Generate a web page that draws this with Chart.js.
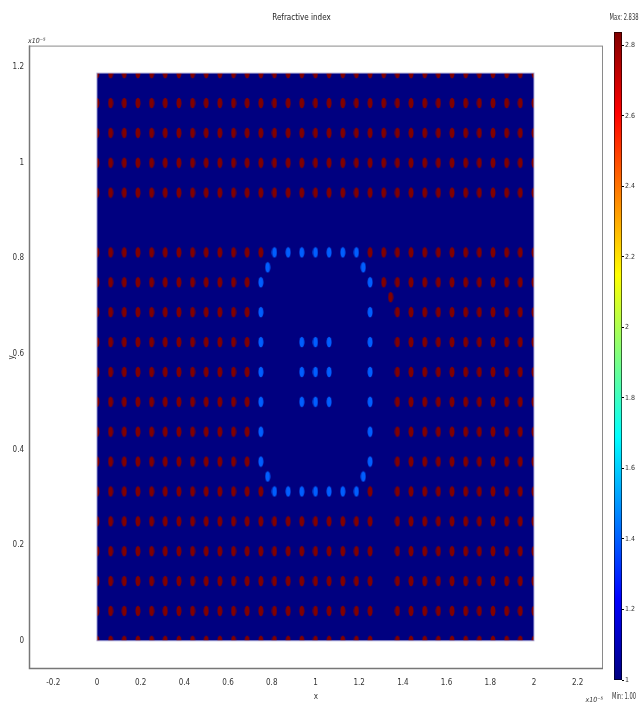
<!DOCTYPE html>
<html>
<head>
<meta charset="utf-8">
<title>Refractive index</title>
<script src="https://cdn.jsdelivr.net/npm/chart.js@4.4.1/dist/chart.umd.min.js"></script>
<style>
  html, body { margin: 0; padding: 0; background: #fff; }
  #wrap { position: relative; width: 639px; height: 704px; overflow: hidden; }
  #main { position: absolute; left: 0; top: 0; }
  #bar { position: absolute; left: 600px; top: 0; }
</style>
</head>
<body>
<div id="wrap">
  <canvas id="main" width="605" height="704"></canvas>
  <canvas id="bar" width="39" height="704"></canvas>
</div>
<script>
/** Lengths are in units of 1e-5. */
const latticeConst = 0.0625;
const domainX = [0, 2];
const domainY = [0, 1.1875];
const xRange = [-0.311, 2.316];
const yRange = [-0.059, 1.245];
const xTickStep = 0.2;
const yTickStep = 0.2;

/** Refractive index values. */
const nMin = 1.0;
const nMax = 2.838;
const nBackground = 1.0;
const nRod = { o: 2.838, b: 1.4 };
const cbTickStep = 0.2;

/** Rod map, top row first. o = high index rod, b = low index rod, . = no rod */
const rodRows = [
  'ooooooooooooooooooooooooooooooooo',
  'ooooooooooooooooooooooooooooooooo',
  'ooooooooooooooooooooooooooooooooo',
  'ooooooooooooooooooooooooooooooooo',
  'ooooooooooooooooooooooooooooooooo',
  '.................................',
  'ooooooooooooo' + 'bbbbbbb' + 'ooooooooooooo',
  'oooooooooooo' + 'b' + '.......' + 'b' + 'oooooooooooo',
  'oooooooooooo' + 'b' + '.......' + 'b' + '.' + 'ooooooooooo',
  'oooooooooooo' + 'b' + '..bbb..' + 'b' + '.' + 'ooooooooooo',
  'oooooooooooo' + 'b' + '..bbb..' + 'b' + '.' + 'ooooooooooo',
  'oooooooooooo' + 'b' + '..bbb..' + 'b' + '.' + 'ooooooooooo',
  'oooooooooooo' + 'b' + '.......' + 'b' + '.' + 'ooooooooooo',
  'oooooooooooo' + 'b' + '.......' + 'b' + '.' + 'ooooooooooo',
  'ooooooooooooo' + 'bbbbbbb' + 'o' + '.' + 'ooooooooooo',
  'ooooooooooooooooooooo' + '.' + 'ooooooooooo',
  'ooooooooooooooooooooo' + '.' + 'ooooooooooo',
  'ooooooooooooooooooooo' + '.' + 'ooooooooooo',
  'ooooooooooooooooooooo' + '.' + 'ooooooooooo',
  'ooooooooooooooooooooo' + '.' + 'ooooooooooo',
];

/** Rods shifted half a period, [column, row] in lattice units. */
const extraLow = [[12.5, 12.5], [19.5, 12.5], [12.5, 5.5], [19.5, 5.5]];
const extraHigh = [[21.5, 11.5]];

const FONT = "'DejaVu Sans Condensed', 'Liberation Sans Narrow', 'DejaVu Sans', sans-serif";

/** Jet colour map. */
const jet = (n) => {
  const f = Math.min(1, Math.max(0, (n - nMin) / (nMax - nMin)));
  const c = (v) => Math.round(255 * Math.min(1, Math.max(0, v)));
  return `rgb(${c(1.5 - Math.abs(4 * f - 3))}, ${c(1.5 - Math.abs(4 * f - 2))}, ${c(1.5 - Math.abs(4 * f - 1))})`;
};

/** Collect rod centres of one kind from the map. */
const rodPoints = (kind, extra) => {
  const pts = [];
  rodRows.forEach((row, i) => {
    const j = rodRows.length - 1 - i;
    [...row].forEach((ch, k) => {
      if (ch === kind) pts.push({ x: k * latticeConst, y: j * latticeConst });
    });
  });
  extra.forEach(([k, j]) => pts.push({ x: k * latticeConst, y: j * latticeConst }));
  return pts;
};

/** Rods are round, but the axes are not equal, so they look like ellipses. */
const rodImage = (color) => {
  const c = document.createElement('canvas');
  c.width = 6;
  c.height = 12;
  const g = c.getContext('2d');
  g.fillStyle = color;
  g.beginPath();
  g.ellipse(3, 6, 2.5, 5.3, 0, 0, Math.PI * 2);
  g.fill();
  return c;
};

const tickText = (v) => String(+v.toFixed(2));

/** Background domain, clip for the rods, frame and exponent labels. */
const domainPlugin = {
  id: 'domain',
  beforeDatasetsDraw(chart) {
    const { ctx, scales: { x, y } } = chart;
    const l = x.getPixelForValue(domainX[0]);
    const r = x.getPixelForValue(domainX[1]);
    const t = y.getPixelForValue(domainY[1]);
    const b = y.getPixelForValue(domainY[0]);
    ctx.save();
    ctx.fillStyle = jet(nBackground);
    ctx.fillRect(l, t, r - l, b - t);
    ctx.beginPath();
    ctx.rect(l, t, r - l, b - t);
    ctx.clip();
  },
  afterDatasetsDraw(chart) {
    const { ctx, scales: { x, y } } = chart;
    ctx.restore();
    const l = x.getPixelForValue(domainX[0]);
    const r = x.getPixelForValue(domainX[1]);
    const t = y.getPixelForValue(domainY[1]);
    const b = y.getPixelForValue(domainY[0]);
    ctx.save();
    ctx.strokeStyle = 'rgba(170, 170, 220, 0.9)';
    ctx.lineWidth = 1;
    ctx.strokeRect(l, t, r - l, b - t);
    ctx.restore();
  },
  afterDraw(chart) {
    const { ctx, chartArea: a } = chart;
    ctx.save();
    ctx.strokeStyle = '#8a8a8a';
    ctx.lineWidth = 1;
    ctx.strokeRect(a.left + 0.5, a.top + 0.5, a.right - a.left - 1, a.bottom - a.top - 1);
    ctx.strokeStyle = '#777';
    ctx.lineWidth = 1.5;
    ctx.beginPath();
    ctx.moveTo(a.left + 0.5, a.top);
    ctx.lineTo(a.left + 0.5, a.bottom - 0.5);
    ctx.lineTo(a.right, a.bottom - 0.5);
    ctx.stroke();
    ctx.fillStyle = '#333';
    ctx.font = `italic 7px ${FONT}`;
    ctx.textBaseline = 'alphabetic';
    ctx.textAlign = 'left';
    ctx.fillText('x10⁻⁵', a.left - 1, a.top - 3);
    ctx.textAlign = 'right';
    ctx.fillText('x10⁻⁵', a.right, 702);
    ctx.restore();
  },
};

new Chart(document.getElementById('main').getContext('2d'), {
  type: 'scatter',
  data: {
    datasets: [
      {
        label: 'high index rods',
        data: rodPoints('o', extraHigh),
        pointStyle: rodImage(jet(nRod.o)),
      },
      {
        label: 'low index rods',
        data: rodPoints('b', extraLow),
        pointStyle: rodImage(jet(nRod.b)),
      },
    ],
  },
  options: {
    responsive: false,
    animation: false,
    events: [],
    layout: { autoPadding: false, padding: { left: 0, right: 2, top: 0, bottom: 0 } },
    plugins: {
      legend: { display: false },
      tooltip: { enabled: false },
      title: {
        display: true,
        text: 'Refractive index',
        color: '#222',
        font: { family: FONT, size: 8, weight: 'normal' },
        padding: { top: 13, bottom: 23 },
      },
    },
    scales: {
      x: {
        type: 'linear',
        min: xRange[0],
        max: xRange[1],
        afterFit: (s) => { s.height = 35; },
        grid: { display: false, drawTicks: false },
        border: { display: false },
        ticks: {
          stepSize: xTickStep,
          includeBounds: false,
          maxRotation: 0,
          autoSkip: false,
          padding: 9,
          color: '#333',
          font: { family: FONT, size: 8 },
          callback: tickText,
        },
        title: {
          display: true,
          text: 'x',
          color: '#333',
          font: { family: FONT, size: 8 },
          padding: { top: 0, bottom: 2 },
        },
      },
      y: {
        type: 'linear',
        min: yRange[0],
        max: yRange[1],
        afterFit: (s) => { s.width = 29; },
        grid: { display: false, drawTicks: false },
        border: { display: false },
        ticks: {
          stepSize: yTickStep,
          includeBounds: false,
          autoSkip: false,
          padding: 5,
          color: '#333',
          font: { family: FONT, size: 8 },
          callback: tickText,
        },
        title: {
          display: true,
          text: 'y',
          color: '#333',
          font: { family: FONT, size: 8 },
          padding: { top: 7, bottom: 0 },
        },
      },
    },
  },
  plugins: [domainPlugin],
});

/** Colour bar. */
const barTextPlugin = {
  id: 'barText',
  afterDraw(chart) {
    const { ctx, chartArea: a } = chart;
    ctx.save();
    ctx.strokeStyle = 'rgba(0, 0, 0, 0.6)';
    ctx.lineWidth = 1;
    ctx.strokeRect(a.left + 0.5, a.top + 0.5, a.right - a.left - 1, a.bottom - a.top - 1);
    ctx.fillStyle = '#333';
    ctx.font = `8px ${FONT}`;
    ctx.textAlign = 'center';
    ctx.textBaseline = 'middle';
    ctx.translate(24, 0);
    ctx.scale(0.72, 1);
    ctx.fillText('Max: ' + nMax.toFixed(3), 0, 18);
    ctx.fillText('Min: ' + nMin.toFixed(2), 0, 697);
    ctx.restore();
  },
};

new Chart(document.getElementById('bar').getContext('2d'), {
  type: 'bar',
  data: {
    labels: ['n'],
    datasets: [
      {
        data: [[nMin, nMax]],
        barPercentage: 1,
        categoryPercentage: 1,
        borderWidth: 0,
        backgroundColor: (context) => {
          const { chart } = context;
          const area = chart.chartArea;
          if (!area) return jet(nMin);
          const g = chart.ctx.createLinearGradient(0, area.bottom, 0, area.top);
          [0, 0.125, 0.375, 0.625, 0.875, 1].forEach((f) => g.addColorStop(f, jet(nMin + f * (nMax - nMin))));
          return g;
        },
      },
    ],
  },
  options: {
    responsive: false,
    animation: false,
    events: [],
    layout: { autoPadding: false, padding: { left: 14, right: 0, top: 32, bottom: 24 } },
    plugins: { legend: { display: false }, tooltip: { enabled: false } },
    scales: {
      x: { display: false },
      y: {
        position: 'right',
        min: nMin,
        max: nMax,
        afterFit: (s) => { s.width = 17; },
        border: { display: false },
        grid: { drawOnChartArea: false, tickLength: 2, color: '#000' },
        ticks: {
          stepSize: cbTickStep,
          includeBounds: false,
          autoSkip: false,
          padding: 1,
          color: '#333',
          font: { family: FONT, size: 7 },
          callback: tickText,
        },
      },
    },
  },
  plugins: [barTextPlugin],
});
</script>
</body>
</html>
